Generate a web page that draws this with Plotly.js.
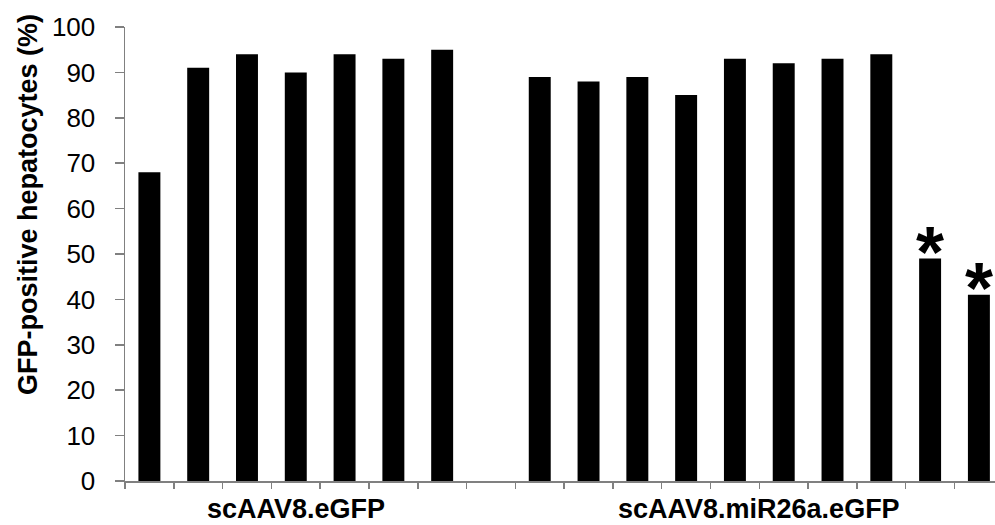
<!DOCTYPE html>
<html>
<head>
<meta charset="utf-8">
<script src="https://cdn.plot.ly/plotly-3.0.1.min.js"></script>
<style>
  html, body { margin: 0; padding: 0; background: #fff; overflow: hidden; }
  #chart { width: 995px; height: 525px; }
</style>
</head>
<body>
<div id="chart"></div>
<script>
// ---- data ----
const groupNames = ["scAAV8.eGFP", "scAAV8.miR26a.eGFP"];
const eGFPValues = [68, 91, 94, 90, 94, 93, 95];
const miR26aValues = [89, 88, 89, 85, 93, 92, 93, 94, 49, 41];
const miR26aSignificant = [false, false, false, false, false, false, false, false, true, true];
const yTickValues = [0, 10, 20, 30, 40, 50, 60, 70, 80, 90, 100];
const yAxisTitle = "GFP-positive hepatocytes (%)";

// slot positions: group 1, one empty slot, group 2
const x1 = eGFPValues.map((_, i) => i);
const x2 = miR26aValues.map((_, i) => eGFPValues.length + 1 + i);
const nSlots = eGFPValues.length + 1 + miR26aValues.length;
const boundaries = [];
for (let i = 0; i < nSlots; i++) boundaries.push(i - 0.5);

const axisGray = "#808080";
const font = "Liberation Sans, Arial, sans-serif";

const traces = [
  { type: "bar", x: x1, y: eGFPValues, width: 0.45,
    marker: { color: "#000", line: { width: 0 } }, hoverinfo: "y" },
  { type: "bar", x: x2, y: miR26aValues, width: 0.45,
    marker: { color: "#000", line: { width: 0 } }, hoverinfo: "y" }
];

const annotations = [];
// group labels
annotations.push({ x: (x1[0] + x1[x1.length - 1]) / 2, xref: "x", y: -0.062, yref: "paper",
  text: "<b>" + groupNames[0] + "</b>", showarrow: false, xanchor: "center", yanchor: "middle",
  font: { family: font, size: 27, color: "#000" } });
annotations.push({ x: (x2[0] + x2[x2.length - 1]) / 2, xref: "x", y: -0.062, yref: "paper",
  text: "<b>" + groupNames[1] + "</b>", showarrow: false, xanchor: "center", yanchor: "middle",
  font: { family: font, size: 27, color: "#000" } });
// y-axis title
annotations.push({ x: -0.1115, xref: "paper", y: 0.61, yref: "paper",
  text: "<b>" + yAxisTitle + "</b>", textangle: -90, showarrow: false,
  xanchor: "center", yanchor: "middle",
  font: { family: font, size: 27, color: "#000" } });
// significance asterisks
miR26aValues.forEach((v, i) => {
  if (miR26aSignificant[i]) {
    annotations.push({ x: x2[i], xref: "x", y: v, yref: "y", text: "<b>*</b>",
      showarrow: false, xanchor: "center", yanchor: "bottom", yshift: -35,
      font: { family: font, size: 72, color: "#000" } });
  }
});

const layout = {
  width: 995, height: 525,
  margin: { l: 125, r: 0, t: 27, b: 44, pad: 0 },
  paper_bgcolor: "#fff", plot_bgcolor: "#fff",
  showlegend: false,
  xaxis: {
    type: "linear", range: [-0.5, 17.33],
    tickmode: "array", tickvals: boundaries, ticktext: boundaries.map(() => ""),
    ticks: "outside", ticklen: 6, tickwidth: 1.5, tickcolor: axisGray,
    showline: true, linecolor: axisGray, linewidth: 1.5,
    showgrid: false, zeroline: false, fixedrange: true
  },
  yaxis: {
    range: [0, 100], tickmode: "array", tickvals: yTickValues,
    ticks: "outside", ticklen: 9, tickwidth: 1.5, tickcolor: axisGray,
    ticklabelstandoff: 14,
    showline: true, linecolor: axisGray, linewidth: 1.5,
    showgrid: false, zeroline: false,
    tickfont: { family: font, size: 26, color: "#000" }
  },
  annotations: annotations
};

Plotly.newPlot("chart", traces, layout, { displayModeBar: false, staticPlot: true });
</script>
</body>
</html>
